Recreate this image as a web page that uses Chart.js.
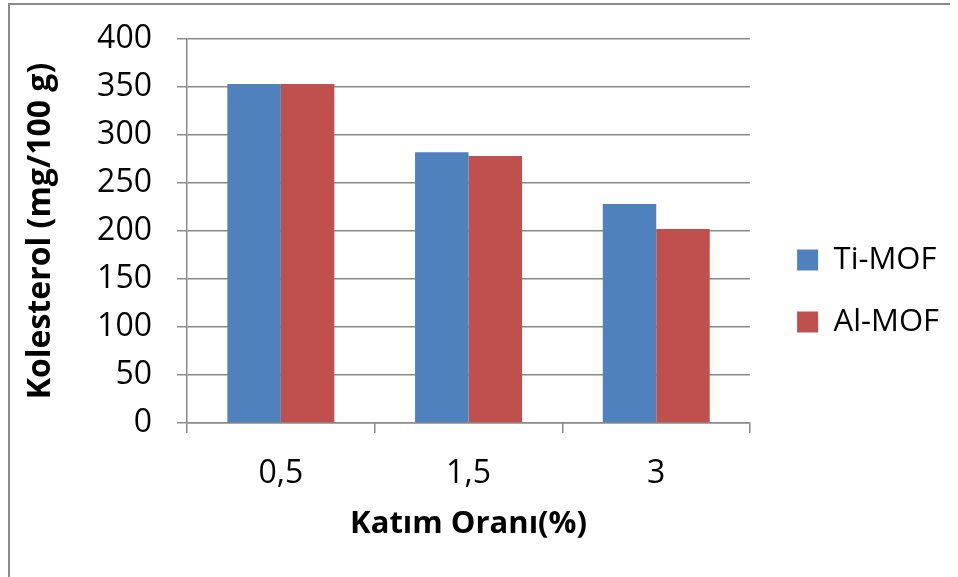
<!DOCTYPE html>
<html>
<head>
<meta charset="utf-8">
<script src="https://cdn.jsdelivr.net/npm/chart.js@4/dist/chart.umd.min.js"></script>
<style>
  html, body { margin: 0; padding: 0; background: #fff; }
  #wrap { position: relative; width: 958px; height: 577px; }
  #frame { position: absolute; left: 8px; top: 3px; right: 8px; bottom: -10px;
           border-left: 2px solid #8a8a8a; border-top: 2px solid #8a8a8a; }
  canvas { position: absolute; left: 0; top: 0; }
</style>
</head>
<body>
<div id="wrap">
  <div id="frame"></div>
  <canvas id="chart" width="958" height="577"></canvas>
</div>
<script>
// Kolesterol by katım oranı
const categories = ['0,5', '1,5', '3'];
const tiMof = [353, 282, 228];
const alMof = [353, 278, 202];
const yTicks = [0, 50, 100, 150, 200, 250, 300, 350, 400];

const gridGray = '#8a8a8a';
const fontFamily = '"Open Sans", "Liberation Sans", sans-serif';

// nudge the legend a bit away from the plot area
const legendShift = {
  id: 'legendShift',
  afterLayout(chart) {
    chart.legend.left += 16;
    chart.legend.right += 16;
  }
};

const ctx = document.getElementById('chart');

new Chart(ctx, {
  type: 'bar',
  data: {
    labels: categories,
    datasets: [{
      label: 'Ti-MOF',
      data: tiMof,
      backgroundColor: '#4F81BD',
      borderWidth: 0
    }, {
      label: 'Al-MOF',
      data: alMof,
      backgroundColor: '#C0504D',
      borderWidth: 0
    }]
  },
  plugins: [legendShift],
  options: {
    responsive: false,
    animation: false,
    layout: {
      padding: { top: 39, bottom: 34, left: 10, right: 25 }
    },
    datasets: {
      bar: {
        categoryPercentage: 0.57,
        barPercentage: 1.0
      }
    },
    plugins: {
      tooltip: { enabled: false },
      legend: {
        position: 'right',
        labels: {
          color: '#000',
          boxWidth: 21,
          boxHeight: 21,
          padding: 31,
          font: { family: fontFamily, size: 31 }
        }
      }
    },
    scales: {
      x: {
        afterFit: (scale) => { scale.height = 120; },
        grid: {
          drawOnChartArea: false,
          drawTicks: true,
          tickLength: 10,
          color: gridGray,
          lineWidth: 1.5
        },
        border: { display: true, color: gridGray, width: 1.5 },
        ticks: {
          color: '#000',
          padding: 22,
          font: { family: fontFamily, size: 32 }
        },
        title: {
          display: true,
          text: 'Katım Oranı(%)',
          color: '#000',
          padding: { top: 0, bottom: 0 },
          font: { family: fontFamily, size: 31, weight: 'bold' }
        }
      },
      y: {
        min: 0,
        max: 400,
        afterFit: (scale) => { scale.width = 177; },
        afterBuildTicks: (scale) => { scale.ticks = yTicks.map(v => ({ value: v })); },
        grid: {
          color: gridGray,
          lineWidth: 1.5,
          tickLength: 10
        },
        border: { display: true, color: gridGray, width: 1.5 },
        ticks: {
          color: '#000',
          padding: 25,
          font: { family: fontFamily, size: 32, lineHeight: 0.5 }
        },
        title: {
          display: true,
          text: 'Kolesterol (mg/100 g)',
          color: '#000',
          padding: { top: 12, bottom: 0 },
          font: { family: fontFamily, size: 32, weight: 'bold' }
        }
      }
    }
  }
});
</script>
</body>
</html>
